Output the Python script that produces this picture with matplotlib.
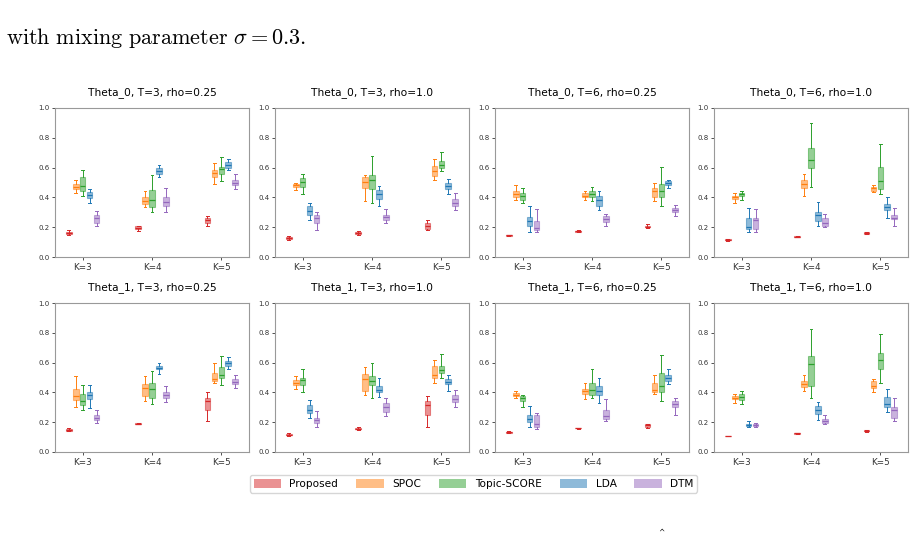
import matplotlib
matplotlib.use('Agg')
import matplotlib.pyplot as plt
from matplotlib.patches import Patch
import numpy as np

plt.rcParams['mathtext.fontset'] = 'cm'

metodos = ['Proposed', 'SPOC', 'Topic-SCORE', 'LDA', 'DTM']
cores = ['tab:red', 'tab:orange', 'tab:green', 'tab:blue', 'tab:purple']
grupos = ['K=3', 'K=4', 'K=5']
titulos = ['Theta_0, T=3, rho=0.25', 'Theta_0, T=3, rho=1.0',
           'Theta_0, T=6, rho=0.25', 'Theta_0, T=6, rho=1.0',
           'Theta_1, T=3, rho=0.25', 'Theta_1, T=3, rho=1.0',
           'Theta_1, T=6, rho=0.25', 'Theta_1, T=6, rho=1.0']

# cada caixa: (whisker baixo, q1, mediana, q3, whisker alto), por K e por metodo
theta0_t3_r025 = [
    [(0.150, 0.157, 0.163, 0.168, 0.178), (0.430, 0.455, 0.470, 0.490, 0.515), (0.410, 0.440, 0.475, 0.535, 0.585), (0.360, 0.395, 0.414, 0.434, 0.456), (0.205, 0.225, 0.260, 0.285, 0.310)],
    [(0.175, 0.190, 0.197, 0.205, 0.210), (0.335, 0.355, 0.375, 0.400, 0.445), (0.305, 0.335, 0.380, 0.450, 0.550), (0.535, 0.560, 0.580, 0.595, 0.620), (0.300, 0.345, 0.370, 0.400, 0.460)],
    [(0.210, 0.225, 0.245, 0.265, 0.275), (0.490, 0.535, 0.565, 0.585, 0.630), (0.510, 0.555, 0.590, 0.605, 0.670), (0.585, 0.600, 0.615, 0.635, 0.660), (0.455, 0.480, 0.500, 0.520, 0.560)],
]
theta0_t3_r1 = [
    [(0.115, 0.123, 0.130, 0.135, 0.140), (0.450, 0.470, 0.480, 0.490, 0.495), (0.425, 0.470, 0.505, 0.530, 0.560), (0.250, 0.285, 0.310, 0.345, 0.365), (0.180, 0.230, 0.260, 0.280, 0.305)],
    [(0.150, 0.156, 0.162, 0.168, 0.175), (0.375, 0.460, 0.505, 0.535, 0.550), (0.360, 0.455, 0.520, 0.550, 0.675), (0.345, 0.390, 0.425, 0.450, 0.475), (0.225, 0.250, 0.270, 0.285, 0.325)],
    [(0.180, 0.190, 0.205, 0.230, 0.245), (0.520, 0.545, 0.575, 0.610, 0.660), (0.575, 0.595, 0.615, 0.645, 0.705), (0.425, 0.455, 0.475, 0.495, 0.525), (0.315, 0.345, 0.365, 0.390, 0.430)],
]
theta0_t6_r025 = [
    [(0.138, 0.142, 0.145, 0.148, 0.150), (0.385, 0.405, 0.425, 0.445, 0.485), (0.365, 0.385, 0.410, 0.430, 0.465), (0.170, 0.210, 0.240, 0.270, 0.340), (0.165, 0.180, 0.195, 0.240, 0.320)],
    [(0.168, 0.170, 0.174, 0.177, 0.180), (0.385, 0.400, 0.412, 0.430, 0.440), (0.375, 0.405, 0.420, 0.445, 0.470), (0.315, 0.345, 0.385, 0.410, 0.445), (0.210, 0.235, 0.255, 0.275, 0.290)],
    [(0.195, 0.198, 0.203, 0.210, 0.220), (0.375, 0.400, 0.440, 0.460, 0.500), (0.340, 0.400, 0.445, 0.490, 0.605), (0.460, 0.480, 0.495, 0.510, 0.520), (0.275, 0.300, 0.315, 0.330, 0.350)],
]
theta0_t6_r1 = [
    [(0.110, 0.112, 0.115, 0.118, 0.120), (0.365, 0.390, 0.400, 0.410, 0.430), (0.385, 0.410, 0.420, 0.430, 0.445), (0.165, 0.185, 0.200, 0.265, 0.330), (0.170, 0.190, 0.250, 0.265, 0.325)],
    [(0.132, 0.134, 0.137, 0.140, 0.142), (0.410, 0.460, 0.490, 0.515, 0.555), (0.470, 0.600, 0.650, 0.730, 0.900), (0.210, 0.240, 0.280, 0.305, 0.370), (0.200, 0.210, 0.225, 0.260, 0.290)],
    [(0.153, 0.156, 0.160, 0.165, 0.170), (0.435, 0.445, 0.460, 0.470, 0.480), (0.425, 0.455, 0.510, 0.605, 0.760), (0.265, 0.315, 0.335, 0.355, 0.400), (0.210, 0.255, 0.265, 0.285, 0.330)],
]
theta1_t3_r025 = [
    [(0.140, 0.143, 0.148, 0.155, 0.160), (0.300, 0.350, 0.375, 0.420, 0.510), (0.280, 0.315, 0.345, 0.390, 0.450), (0.295, 0.355, 0.385, 0.400, 0.450), (0.195, 0.215, 0.228, 0.245, 0.280)],
    [(0.185, 0.186, 0.190, 0.195, 0.197), (0.345, 0.375, 0.430, 0.455, 0.510), (0.320, 0.365, 0.420, 0.460, 0.545), (0.525, 0.555, 0.565, 0.580, 0.595), (0.335, 0.365, 0.380, 0.405, 0.445)],
    [(0.205, 0.285, 0.340, 0.365, 0.405), (0.460, 0.475, 0.490, 0.530, 0.595), (0.450, 0.495, 0.520, 0.570, 0.645), (0.555, 0.575, 0.595, 0.610, 0.640), (0.430, 0.455, 0.470, 0.490, 0.515)],
]
theta1_t3_r1 = [
    [(0.110, 0.113, 0.117, 0.122, 0.125), (0.420, 0.450, 0.465, 0.480, 0.510), (0.400, 0.450, 0.485, 0.500, 0.555), (0.225, 0.260, 0.285, 0.315, 0.350), (0.165, 0.195, 0.215, 0.230, 0.275)],
    [(0.150, 0.152, 0.157, 0.162, 0.165), (0.380, 0.410, 0.490, 0.525, 0.570), (0.360, 0.450, 0.475, 0.510, 0.595), (0.370, 0.400, 0.415, 0.445, 0.495), (0.240, 0.270, 0.305, 0.330, 0.365)],
    [(0.170, 0.245, 0.315, 0.340, 0.375), (0.465, 0.500, 0.520, 0.575, 0.615), (0.500, 0.530, 0.550, 0.580, 0.660), (0.410, 0.455, 0.470, 0.490, 0.520), (0.300, 0.335, 0.355, 0.380, 0.415)],
]
theta1_t6_r025 = [
    [(0.128, 0.130, 0.133, 0.136, 0.138), (0.365, 0.375, 0.385, 0.395, 0.410), (0.300, 0.340, 0.360, 0.375, 0.385), (0.170, 0.200, 0.220, 0.245, 0.310), (0.155, 0.165, 0.190, 0.245, 0.265)],
    [(0.157, 0.158, 0.160, 0.162, 0.163), (0.355, 0.390, 0.410, 0.425, 0.460), (0.360, 0.385, 0.415, 0.460, 0.555), (0.330, 0.380, 0.410, 0.440, 0.495), (0.205, 0.220, 0.240, 0.280, 0.355)],
    [(0.160, 0.170, 0.180, 0.185, 0.190), (0.390, 0.400, 0.415, 0.460, 0.520), (0.345, 0.400, 0.445, 0.530, 0.650), (0.455, 0.475, 0.500, 0.520, 0.555), (0.250, 0.300, 0.320, 0.345, 0.360)],
]
theta1_t6_r1 = [
    [(0.105, 0.106, 0.107, 0.109, 0.110), (0.330, 0.355, 0.365, 0.375, 0.390), (0.320, 0.350, 0.370, 0.390, 0.410), (0.170, 0.175, 0.182, 0.190, 0.210), (0.170, 0.172, 0.178, 0.185, 0.195)],
    [(0.123, 0.124, 0.126, 0.128, 0.130), (0.410, 0.435, 0.455, 0.475, 0.520), (0.360, 0.445, 0.590, 0.645, 0.825), (0.215, 0.255, 0.280, 0.310, 0.335), (0.190, 0.195, 0.210, 0.220, 0.245)],
    [(0.135, 0.138, 0.142, 0.148, 0.150), (0.400, 0.430, 0.445, 0.475, 0.490), (0.460, 0.560, 0.620, 0.665, 0.790), (0.270, 0.300, 0.320, 0.370, 0.420), (0.210, 0.230, 0.280, 0.305, 0.360)],
]

paineis = [theta0_t3_r025, theta0_t3_r1, theta0_t6_r025, theta0_t6_r1,
           theta1_t3_r025, theta1_t3_r1, theta1_t6_r025, theta1_t6_r1]

fig = plt.figure(figsize=(9.16, 5.37), dpi=100)

esquerdas = [55, 275, 495, 714]
topos = [108, 303]
largura, altura = 194, 149
deslocamentos = np.array([-0.2, -0.1, 0.0, 0.1, 0.2])

for i, (dados, titulo) in enumerate(zip(paineis, titulos)):
    linha, coluna = divmod(i, 4)
    ax = fig.add_axes([esquerdas[coluna] / 916, 1 - (topos[linha] + altura) / 537,
                       largura / 916, altura / 537])
    for g, caixas in enumerate(dados):
        for m, (lo, q1, med, q3, hi) in enumerate(caixas):
            cor = cores[m]
            stats = [dict(whislo=lo, q1=q1, med=med, q3=q3, whishi=hi, fliers=[])]
            ax.bxp(stats, positions=[g + deslocamentos[m]], widths=0.08,
                   patch_artist=True, showfliers=False,
                   boxprops=dict(facecolor=cor, edgecolor=cor, alpha=0.5, linewidth=0.8),
                   whiskerprops=dict(color=cor, linewidth=0.7),
                   capprops=dict(color=cor, linewidth=0.7),
                   medianprops=dict(color=cor, linewidth=0.9),
                   manage_ticks=False)
    ax.set_xlim(-0.4, 2.4)
    ax.set_ylim(0, 1.0)
    ax.set_xticks(range(len(grupos)))
    ax.set_xticklabels(grupos, fontsize=6.3)
    ax.set_yticks(np.arange(0, 1.01, 0.2))
    ax.tick_params(axis='y', labelsize=5)
    ax.tick_params(length=2.5, width=0.6, colors='#333333', pad=1.5)
    for s in ax.spines.values():
        s.set_color('#999999')
        s.set_linewidth(0.8)
    ax.set_title(titulo, fontsize=7.7, pad=9)

handles = [Patch(facecolor=c, alpha=0.5, label=n) for c, n in zip(cores, metodos)]
fig.legend(handles=handles, loc='center', bbox_to_anchor=(0.517, 0.099), ncol=5,
           fontsize=7.6, frameon=True, handlelength=2.6, handleheight=0.9,
           columnspacing=1.7, borderpad=0.35)

fig.text(0.007, 0.918, r'$\mathrm{with\ mixing\ parameter}\ \sigma = 0.3.$',
         fontsize=16, ha='left', va='baseline')
fig.text(0.722, 0.002, r'$\hat{\ }$', fontsize=12, ha='center', va='bottom')

plt.savefig('out.png', dpi=100)
plt.close()
